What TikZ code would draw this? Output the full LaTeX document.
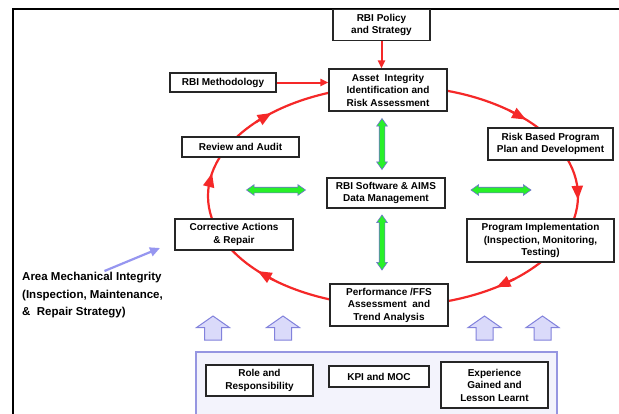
\documentclass[tikz,border=0pt]{standalone}
\usepackage{fontspec}
\setmainfont{Liberation Sans}
\usetikzlibrary{calc,arrows.meta,positioning,shapes.arrows}

\definecolor{cycred}{RGB}{245,40,40}
\definecolor{miblue}{RGB}{150,150,240}
\definecolor{lavfill}{RGB}{218,218,250}
\definecolor{lavdraw}{RGB}{130,130,220}
\definecolor{basefill}{RGB}{243,243,252}
\definecolor{basedraw}{RGB}{150,150,225}
\definecolor{arrgreen}{RGB}{40,240,40}
\definecolor{arrblue}{RGB}{110,110,210}

\tikzset{
  box/.style={draw=black!85, line width=1.1pt, fill=white, align=center, inner sep=0pt,
    font=\bfseries\fontsize{10}{12.5}\selectfont},
  redarr/.style={draw=cycred, line width=2pt, -{Triangle[length=8pt,width=7pt]}},
  cycarr/.style={draw=cycred, line width=2.2pt, -{Triangle[length=14pt,width=11pt]}},
  greenarr/.style={double arrow, draw=arrblue, fill=arrgreen, line width=0.6pt,
    inner xsep=0pt, inner ysep=2.5pt, double arrow head extend=2.5pt, double arrow tip angle=70},
  uparr/.style={single arrow, draw=lavdraw, fill=lavfill, line width=1pt,
    inner xsep=0pt, inner ysep=8pt, minimum height=24pt, single arrow head extend=8pt,
    single arrow tip angle=110, rotate=90},
  miarr/.style={draw=miblue, line width=2.2pt, -{Triangle[length=10pt,width=9pt]}},
}

\begin{document}
\begin{tikzpicture}[x=1pt,y=-1pt]
\clip (0,0) rectangle (619,413);
\fill[white] (0,0) rectangle (619,413);
% outer frame
\draw[line width=2.5pt] (13,440) -- (13,9) -- (640,9);

% red cycle
\coordinate (cyc) at (393,196);
\draw[cycred, line width=2.2pt] (cyc) ellipse [x radius=185, y radius=110];
\foreach \t in {229,316,2,56,137,192}
  \draw[cycarr] ($(cyc)+(\t-7:185 and 110)$) -- ($(cyc)+(\t:185 and 110)$);

% boxes on the cycle
\node[box, minimum width=97pt, minimum height=31pt] (policy) at (381.5,25) {RBI Policy\\and Strategy};
\node[box, minimum width=118pt, minimum height=42pt] (asset) at (388,90) {Asset~~Integrity\\Identification and\\Risk Assessment};
\node[box, minimum width=106pt, minimum height=19pt] (method) at (223,82.5) {RBI Methodology};
\node[box, minimum width=117pt, minimum height=20pt] (review) at (240.5,147) {Review and Audit};
\node[box, minimum width=125pt, minimum height=32pt] (riskplan) at (550.5,144) {Risk Based Program\\Plan and Development};
\node[box, minimum width=118pt, minimum height=30pt] (software) at (386,193) {RBI Software \& AIMS\\Data Management};
\node[box, minimum width=118pt, minimum height=31pt] (corrective) at (234,234.5) {Corrective Actions\\\& Repair};
\node[box, minimum width=147pt, minimum height=43pt] (progimpl) at (540.5,240.5) {Program Implementation\\(Inspection, Monitoring,\\Testing)};
\node[box, minimum width=118pt, minimum height=42pt] (perf) at (389,305) {Performance /FFS\\Assessment~~and\\Trend Analysis};

\draw[redarr] (policy.south) -- (policy.south |- asset.north);
\draw[redarr] (method.east) -- (method.east -| asset.west);

% data management arrows
\node[greenarr, minimum height=51pt, rotate=90] (gup) at (382,144) {};
\node[greenarr, minimum height=55pt, rotate=90] (gdown) at (382,242.5) {};
\node[greenarr, minimum height=59pt] (gleft) at (276,190) {};
\node[greenarr, minimum height=60pt] (gright) at (501,190) {};

% foundation
\foreach \x [count=\i] in {213,283,484.5,542.5}
  \node[uparr] (up\i) at (\x,331) {};
\node[draw=basedraw, fill=basefill, line width=1.2pt, inner sep=0pt,
  minimum width=361pt, minimum height=80pt] (base) at (376.5,392) {};
\node[box, minimum width=107pt, minimum height=31pt] (role) at (259.5,380.5) {Role and\\Responsibility};
\node[box, minimum width=100pt, minimum height=21pt] (kpi) at (379,376.5) {KPI and MOC};
\node[box, minimum width=107pt, minimum height=46pt] (exper) at (494.5,385) {Experience\\Gained and\\Lesson Learnt};

% area label
\node[anchor=north west, align=left, inner sep=0pt,
  font=\bfseries\fontsize{11.5}{17.5}\selectfont] (area) at (22,272)
  {Area Mechanical Integrity\\(Inspection, Maintenance,\\\&~~Repair Strategy)};
\coordinate (mitip) at (160,248);
\draw[miarr] ($(area.north)+(12,-1)$) -- (mitip);
\end{tikzpicture}
\end{document}
